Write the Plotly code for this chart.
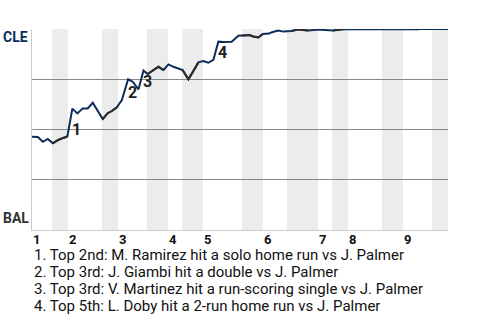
import plotly.graph_objects as go

# Game progress (% of game) and CLE win probability (%)
progress = [0.0, 1.4, 2.6, 3.8, 5.0, 6.3, 7.5, 8.5, 9.7, 10.9, 12.2, 13.4, 14.6,
            17.0, 18.2, 19.2, 20.4, 21.6, 23.1, 24.2, 25.6, 26.8, 27.8, 29.2, 30.4,
            31.6, 32.8, 34.0, 35.2, 36.2, 37.6, 38.8, 40.0, 41.2, 42.4, 43.6, 44.8,
            46.0, 48.0, 49.6, 50.6, 52.2, 53.2, 54.4, 55.5, 57.0, 57.7, 59.2, 60.4,
            62.4, 64.0, 66.4, 68.8, 72.4, 73.6, 74.8, 92.9, 93.0, 100.0]
cle_wp = [46.4, 46.3, 43.9, 45.3, 43.1, 44.8, 45.8, 46.5, 60.4, 58.0, 60.5, 60.5, 63.3,
          55.2, 58.1, 59.2, 61.0, 64.7, 75.0, 73.8, 70.0, 79.3, 77.6, 79.6, 81.2,
          79.6, 82.4, 81.2, 80.4, 79.6, 75.0, 79.1, 83.4, 84.1, 83.2, 84.6, 93.7,
          93.5, 93.7, 96.6, 96.7, 97.0, 96.3, 95.8, 97.5, 97.7, 98.4, 99.2, 98.7,
          99.0, 99.8, 99.2, 99.7, 99.2, 99.7, 99.9, 99.9, 100.0, 100.0]

# Start of each half inning (% of game)
top_starts = [0.0, 8.65, 20.7, 32.7, 41.1, 55.5, 68.75, 76.0, 89.2]
bottom_starts = [4.8, 16.8, 27.6, 36.1, 50.5, 61.3, 72.1, 84.1, 96.2]
inning_labels = ["1", "2", "3", "4", "5", "6", "7", "8", "9"]

# Key events: index of the point after the swing
event_idx = [8, 18, 21, 36]
event_labels = ["1", "2", "3", "4"]
event_texts = [
    "1. Top 2nd: M. Ramirez hit a solo home run vs J. Palmer",
    "2. Top 3rd: J. Giambi hit a double vs J. Palmer",
    "3. Top 3rd: V. Martinez hit a run-scoring single vs J. Palmer",
    "4. Top 5th: L. Doby hit a 2-run home run vs J. Palmer",
]

NAVY = "#0b2d5b"
DARK = "#2e2a26"
FONT = "Roboto"

fig = go.Figure()

# full line in navy
fig.add_trace(go.Scatter(x=progress, y=cle_wp, mode="lines",
                         line=dict(color=NAVY, width=2), hoverinfo="skip"))

# bottom halves in dark
ends = top_starts[1:] + [100.0]
for s, e in zip(bottom_starts, ends):
    xs = [x for x in progress if s <= x <= e]
    ys = [y for x, y in zip(progress, cle_wp) if s <= x <= e]
    if len(xs) >= 2:
        fig.add_trace(go.Scatter(x=xs, y=ys, mode="lines",
                                 line=dict(color=DARK, width=2), hoverinfo="skip"))

shapes = []
for s, e in zip(bottom_starts, ends):
    shapes.append(dict(type="rect", xref="x", yref="paper", x0=s, x1=e, y0=0, y1=1,
                       fillcolor="#ececec", line=dict(width=0), layer="below"))

annotations = []
for i, lab in zip(event_idx, event_labels):
    annotations.append(dict(x=progress[i], y=cle_wp[i - 1], xref="x", yref="y",
                            text="<b>%s</b>" % lab, showarrow=False,
                            xanchor="left", yanchor="bottom", yshift=-4, xshift=-2,
                            font=dict(family=FONT, size=16, color="#222")))

for s, lab in zip(top_starts, inning_labels):
    annotations.append(dict(x=s, y=0, xref="x", yref="paper", text="<b>%s</b>" % lab,
                            showarrow=False, xanchor="left", yanchor="top", yshift=0,
                            xshift=-1, height=14, valign="middle",
                            font=dict(family=FONT, size=13, color="#111")))

annotations.append(dict(x=0, y=1, xref="paper", yref="paper", text="<b>CLE</b>",
                        showarrow=False, xanchor="right", yanchor="top", xshift=-2, yshift=2,
                        font=dict(family=FONT, size=14, color=NAVY)))
annotations.append(dict(x=0, y=0, xref="paper", yref="paper", text="<b>BAL</b>",
                        showarrow=False, xanchor="right", yanchor="bottom", xshift=-1, yshift=2,
                        font=dict(family=FONT, size=14, color="#333")))

row_centers = [24.5, 41.5, 58.5, 76]
for t, c in zip(event_texts, row_centers):
    annotations.append(dict(x=0, y=-c / 201.0, xref="paper", yref="paper", text=t,
                            showarrow=False, xanchor="left", yanchor="middle", xshift=0,
                            height=16, valign="middle",
                            font=dict(family=FONT, size=15, color="#111")))

fig.update_layout(
    width=480, height=320,
    margin=dict(l=32, r=32, t=29, b=90),
    paper_bgcolor="white", plot_bgcolor="white",
    showlegend=False,
    shapes=shapes, annotations=annotations,
    xaxis=dict(range=[0, 100], showgrid=False, zeroline=False, showticklabels=False,
               showline=True, linecolor="#cccccc", linewidth=1, ticks=""),
    yaxis=dict(range=[0, 100], tickvals=[25, 50, 75, 100], showgrid=True,
               gridcolor="#888888", gridwidth=1, zeroline=False, showticklabels=False,
               showline=True, linecolor="#cccccc", linewidth=1, ticks=""),
)

fig.write_html("out.html")
